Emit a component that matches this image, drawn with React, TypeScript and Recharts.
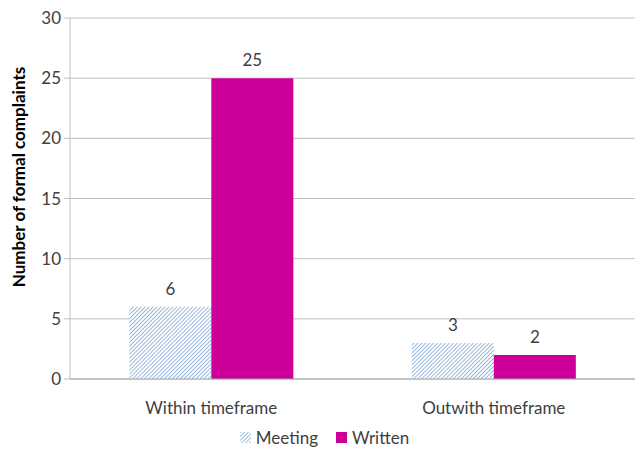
import { BarChart, Bar, XAxis, YAxis, CartesianGrid, Legend, LabelList } from 'recharts'

const categories = ['Within timeframe', 'Outwith timeframe']
const meeting = [6, 3]
const written = [25, 2]
const yTicks = [0, 5, 10, 15, 20, 25, 30]

const data = categories.map((name, i) => ({ name, meeting: meeting[i], written: written[i] }))

const FONT = 'Lato, "Open Sans", sans-serif'
const MAGENTA = '#cc0099'
const HATCH = '#6f9ad0'
const TEXT = '#404040'

function LegendContent() {
  return (
    <div
      style={{
        display: 'flex',
        justifyContent: 'center',
        alignItems: 'center',
        gap: 18,
        fontFamily: FONT,
        fontSize: 17,
        color: TEXT,
        paddingLeft: 14,
      }}
    >
      <span style={{ display: 'flex', alignItems: 'center', gap: 5 }}>
        <svg width={11} height={11}>
          <rect width={11} height={11} fill="url(#hatch)" />
        </svg>
        Meeting
      </span>
      <span style={{ display: 'flex', alignItems: 'center', gap: 5 }}>
        <svg width={11} height={11}>
          <rect width={11} height={11} fill={MAGENTA} />
        </svg>
        Written
      </span>
    </div>
  )
}

export default function App() {
  return (
    <div style={{ position: 'absolute', left: 0, top: 0, background: '#fff' }}>
      <BarChart
        width={635}
        height={449}
        data={data}
        margin={{ top: 18, right: 0, left: 0, bottom: 0 }}
        barCategoryGap="21%"
        barGap={0}
      >
        <defs>
          <pattern id="hatch" width={2.8} height={2.8} patternUnits="userSpaceOnUse" patternTransform="rotate(45)">
            <rect width={2.8} height={2.8} fill="#fff" />
            <line x1={0} y1={0} x2={0} y2={2.8} stroke={HATCH} strokeWidth={1.4} />
          </pattern>
        </defs>
        <CartesianGrid vertical={false} stroke="#bfbfbf" />
        <XAxis
          dataKey="name"
          axisLine={{ stroke: '#a6a6a6' }}
          tickLine={false}
          tick={{ fill: TEXT, fontSize: 17, fontFamily: FONT }}
          tickMargin={17}
          height={48}
        />
        <YAxis
          domain={[0, 30]}
          ticks={yTicks}
          width={70}
          axisLine={{ stroke: '#bfbfbf' }}
          tickLine={{ stroke: '#bfbfbf' }}
          tickSize={6}
          tickMargin={3}
          tick={{ fill: TEXT, fontSize: 17, fontFamily: FONT }}
          label={{
            content: () => (
              <text
                x={18}
                y={177}
                transform="rotate(-90, 18, 177)"
                textAnchor="middle"
                dominantBaseline="central"
                fontFamily={FONT}
                fontSize={17}
                fontWeight="bold"
                fill="#000"
              >
                Number of formal complaints
              </text>
            ),
          }}
        />
        <Legend verticalAlign="bottom" height={22} content={<LegendContent />} />
        <Bar dataKey="meeting" name="Meeting" fill="url(#hatch)" isAnimationActive={false}>
          <LabelList dataKey="meeting" position="top" offset={12} fill={TEXT} fontSize={17} fontFamily={FONT} />
        </Bar>
        <Bar dataKey="written" name="Written" fill={MAGENTA} isAnimationActive={false}>
          <LabelList dataKey="written" position="top" offset={12} fill={TEXT} fontSize={17} fontFamily={FONT} />
        </Bar>
      </BarChart>
    </div>
  )
}
